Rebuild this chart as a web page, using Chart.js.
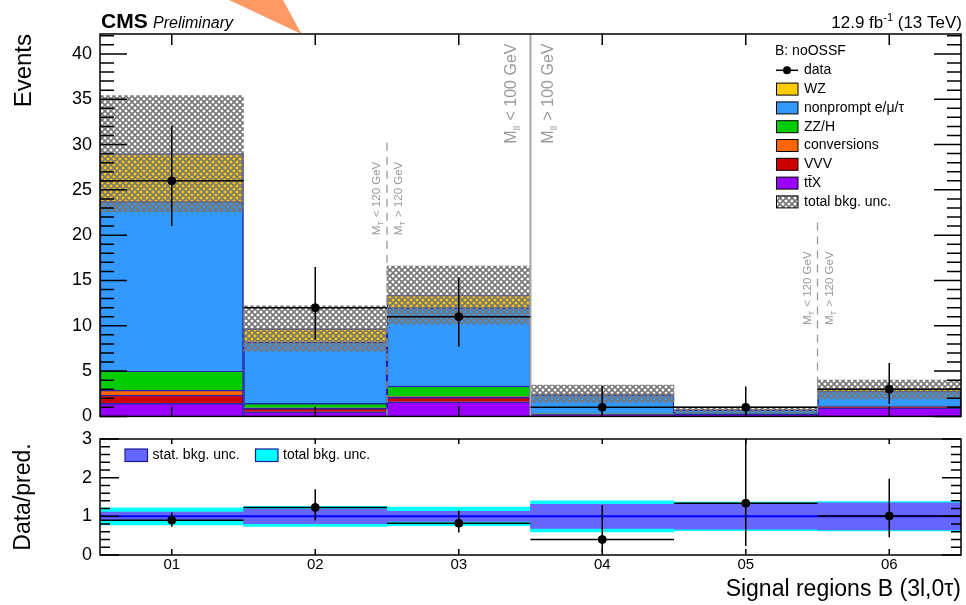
<!DOCTYPE html>
<html>
<head>
<meta charset="utf-8">
<script src="https://cdn.jsdelivr.net/npm/chart.js"></script>
<style>
  body { margin: 0; background: #fff; }
  #wrap { position: relative; width: 966px; height: 605px; }
  canvas { position: absolute; left: 0; }
  #main { top: 0; }
  #ratio { top: 420px; }
</style>
</head>
<body>
<div id="wrap">
  <canvas id="main" width="966" height="428"></canvas>
  <canvas id="ratio" width="966" height="185"></canvas>
</div>
<script>
// values
const regions = ['01', '02', '03', '04', '05', '06'];
const ttX = [1.44, 0.50, 1.62, 0.20, 0.25, 0.95];
const vvv = [0.92, 0.40, 0.48, 0.06, 0.03, 0.12];
const conversions = [0.54, 0.05, 0.10, 0.00, 0.00, 0.02];
const zzh = [2.14, 0.49, 1.15, 0.06, 0.02, 0.06];
const nonprompt = [18.66, 6.80, 8.65, 2.10, 0.43, 1.65];
const wz = [5.30, 1.46, 1.40, 0.08, 0.02, 0.17];
const bkgUnc = [6.4, 2.5, 3.2, 0.95, 0.30, 1.05];

const dataObs = [26, 12, 11, 1, 1, 3];
const dataLo = [21.0, 8.5, 7.7, 0.17, 0.17, 1.37];
const dataHi = [32.1, 16.5, 15.3, 3.35, 3.3, 5.9];

const ratio = [0.90, 1.23, 0.82, 0.40, 1.34, 1.01];
const ratioLo = [0.73, 0.89, 0.58, 0.07, 0.23, 0.46];
const ratioHi = [1.10, 1.70, 1.15, 1.29, 4.4, 1.97];
const statUnc = [0.11, 0.19, 0.13, 0.31, 0.33, 0.35];
const totUnc = [0.22, 0.26, 0.24, 0.40, 0.37, 0.38];

const yTicks = [0, 5, 10, 15, 20, 25, 30, 35, 40];
const ratioTicks = [0, 1, 2, 3];

const FONT = "'Liberation Sans', Arial, Helvetica, sans-serif";
Chart.defaults.font.family = FONT;
Chart.defaults.color = '#000';

const colors = {
  ttX: '#9900ff', vvv: '#cc0000', conv: '#ff6600', zzh: '#00cc00',
  np: '#3399ff', wz: '#ffcc00', edge: '#2424a4', gray: '#9a9a9a'
};

function makeHatch() {
  const c = document.createElement('canvas');
  c.width = 6; c.height = 6;
  const g = c.getContext('2d');
  g.strokeStyle = '#767676';
  g.lineWidth = 1.6;
  g.beginPath();
  g.moveTo(-1, -1); g.lineTo(7, 7);
  g.moveTo(-1, 7); g.lineTo(7, -1);
  g.stroke();
  return g.createPattern(c, 'repeat');
}
const hatch = makeHatch();

const totals = ttX.map((v, i) => v + vvv[i] + conversions[i] + zzh[i] + nonprompt[i] + wz[i]);

// frame + ROOT style inner ticks
function drawFrame(chart, o) {
  const {ctx, chartArea: a, scales: {x, y}} = chart;
  ctx.save();
  ctx.strokeStyle = '#000';
  ctx.lineWidth = 1.5;
  ctx.beginPath();
  const n = Math.round((y.max - y.min) / o.minor);
  for (let k = 0; k <= n; k++) {
    const v = y.min + k * o.minor;
    const py = y.getPixelForValue(v);
    const r = v / o.major;
    const len = Math.abs(r - Math.round(r)) < 1e-6 ? o.yMajor : o.yMinor;
    ctx.moveTo(a.left, py); ctx.lineTo(a.left + len, py);
    ctx.moveTo(a.right, py); ctx.lineTo(a.right - len, py);
  }
  for (let i = 0; i < regions.length; i++) {
    const px = x.getPixelForValue(i);
    ctx.moveTo(px, a.top); ctx.lineTo(px, a.top + o.xTop);
    ctx.moveTo(px, a.bottom); ctx.lineTo(px, a.bottom - o.xBottom);
  }
  ctx.stroke();
  ctx.strokeRect(a.left, a.top, a.right - a.left, a.bottom - a.top);
  ctx.restore();
}

function drawErrors(chart, vals, lo, hi) {
  const {ctx, chartArea: a, scales: {x, y}} = chart;
  const w = x.getPixelForValue(1) - x.getPixelForValue(0);
  ctx.save();
  ctx.beginPath();
  ctx.rect(a.left, a.top, a.right - a.left, a.bottom - a.top);
  ctx.clip();
  ctx.strokeStyle = '#000';
  ctx.lineWidth = 1.5;
  ctx.beginPath();
  vals.forEach((v, i) => {
    const px = x.getPixelForValue(i);
    const py = y.getPixelForValue(v);
    ctx.moveTo(px - w / 2, py); ctx.lineTo(px + w / 2, py);
    ctx.moveTo(px, y.getPixelForValue(lo[i])); ctx.lineTo(px, y.getPixelForValue(hi[i]));
  });
  ctx.stroke();
  ctx.restore();
}

function drawVText(ctx, x, y, parts, size, color) {
  ctx.save();
  ctx.translate(x, y);
  ctx.rotate(-Math.PI / 2);
  ctx.fillStyle = color;
  ctx.textAlign = 'left';
  ctx.textBaseline = 'alphabetic';
  let cx = 0;
  for (const p of parts) {
    const s = p.sub ? size * 0.62 : size;
    ctx.font = s + 'px ' + FONT;
    ctx.fillText(p.t, cx, p.sub ? size * 0.28 : 0);
    cx += ctx.measureText(p.t).width + (p.sub ? 1 : 0);
  }
  ctx.restore();
}

const legendItems = [
  {label: 'WZ', fill: colors.wz},
  {label: 'nonprompt e/\u03bc/\u03c4', fill: colors.np},
  {label: 'ZZ/H', fill: colors.zzh},
  {label: 'conversions', fill: colors.conv},
  {label: 'VVV', fill: colors.vvv},
  {label: 't\u0074\u0304X', fill: colors.ttX},
  {label: 'total bkg. unc.', fill: hatch}
];

const HATCH_INDEX = 6;

const mainDecor = {
  id: 'mainDecor',
  afterDatasetDraw(chart, args) {
    if (args.index !== HATCH_INDEX) return;
    const {ctx, chartArea: a, scales: {x, y}} = chart;
    const edge = i => (x.getPixelForValue(i) + x.getPixelForValue(i + 1)) / 2;
    ctx.save();
    // region separators
    ctx.strokeStyle = '#a8a8a8';
    ctx.lineWidth = 2;
    ctx.beginPath();
    ctx.moveTo(edge(2), a.top); ctx.lineTo(edge(2), a.bottom);
    ctx.stroke();
    ctx.strokeStyle = colors.gray;
    ctx.lineWidth = 1.3;
    ctx.setLineDash([8, 6]);
    ctx.beginPath();
    ctx.moveTo(edge(1), y.getPixelForValue(30.2)); ctx.lineTo(edge(1), a.bottom);
    ctx.moveTo(edge(4), y.getPixelForValue(21.4)); ctx.lineTo(edge(4), a.bottom);
    ctx.stroke();
    ctx.restore();

    const mll = y.getPixelForValue(30.1);
    drawVText(ctx, edge(2) - 15, mll, [{t: 'M'}, {t: 'll', sub: true}, {t: ' < 100 GeV'}], 16, colors.gray);
    drawVText(ctx, edge(2) + 22, mll, [{t: 'M'}, {t: 'll', sub: true}, {t: ' > 100 GeV'}], 16, colors.gray);
    const m1 = y.getPixelForValue(20.0);
    drawVText(ctx, edge(1) - 7, m1, [{t: 'M'}, {t: 'T', sub: true}, {t: ' < 120 GeV'}], 11.5, colors.gray);
    drawVText(ctx, edge(1) + 15, m1, [{t: 'M'}, {t: 'T', sub: true}, {t: ' > 120 GeV'}], 11.5, colors.gray);
    const m2 = y.getPixelForValue(10.1);
    drawVText(ctx, edge(4) - 7, m2, [{t: 'M'}, {t: 'T', sub: true}, {t: ' < 120 GeV'}], 11.5, colors.gray);
    drawVText(ctx, edge(4) + 15, m2, [{t: 'M'}, {t: 'T', sub: true}, {t: ' > 120 GeV'}], 11.5, colors.gray);

    drawErrors(chart, dataObs, dataLo, dataHi);
  },
  afterDraw(chart) {
    const {ctx} = chart;
    // orange marker at the top
    ctx.save();
    ctx.fillStyle = '#ff9966';
    ctx.beginPath();
    ctx.moveTo(229, 0); ctx.lineTo(283, 0); ctx.lineTo(301.5, 34);
    ctx.closePath();
    ctx.fill();
    ctx.restore();

    drawFrame(chart, {minor: 1, major: 5, yMajor: 27, yMinor: 14, xTop: 11, xBottom: 10});

    ctx.save();
    ctx.fillStyle = '#000';
    ctx.textBaseline = 'alphabetic';
    ctx.textAlign = 'left';
    ctx.font = 'bold 21px ' + FONT;
    ctx.fillText('CMS', 101, 28);
    ctx.font = 'italic 16px ' + FONT;
    ctx.fillText('Preliminary', 153, 28);

    // 12.9 fb^-1 (13 TeV)
    ctx.font = '17px ' + FONT;
    const a1 = '12.9 fb', a3 = ' (13 TeV)';
    const w1 = ctx.measureText(a1).width, w3 = ctx.measureText(a3).width;
    ctx.font = '11px ' + FONT;
    const w2 = ctx.measureText('-1').width;
    let sx = 962 - (w1 + w2 + w3);
    ctx.font = '17px ' + FONT;
    ctx.fillText(a1, sx, 28);
    ctx.font = '11px ' + FONT;
    ctx.fillText('-1', sx + w1, 21);
    ctx.font = '17px ' + FONT;
    ctx.fillText(a3, sx + w1 + w2, 28);

    // legend
    ctx.font = '14px ' + FONT;
    ctx.textBaseline = 'middle';
    ctx.fillText('B: noOSSF', 775, 51);
    const rowY = k => 70.3 + k * 18.8;
    ctx.strokeStyle = '#000';
    ctx.lineWidth = 1.5;
    ctx.beginPath();
    ctx.moveTo(776, rowY(0)); ctx.lineTo(798, rowY(0));
    ctx.stroke();
    ctx.beginPath();
    ctx.arc(787, rowY(0), 4, 0, Math.PI * 2);
    ctx.fill();
    ctx.fillText('data', 804, rowY(0));
    legendItems.forEach((it, k) => {
      const yy = rowY(k + 1);
      ctx.fillStyle = it.fill;
      ctx.fillRect(776, yy - 6, 22, 12);
      ctx.lineWidth = 1;
      ctx.strokeStyle = '#000';
      ctx.strokeRect(776.5, yy - 6, 21.5, 12);
      ctx.fillStyle = '#000';
      ctx.fillText(it.label, 804, yy);
    });
    ctx.restore();
  }
};

const barCommon = {
  type: 'bar', stack: 'bkg', order: 2, grouped: false,
  barPercentage: 1, categoryPercentage: 1,
  borderColor: colors.edge, borderWidth: 1.5
};

// keep the plot frame where the reference has it
const fixY = w => s => { s.width = w; s.paddingTop = 0; s.paddingBottom = 0; };

new Chart(document.getElementById('main'), {
  type: 'bar',
  data: {
    labels: regions,
    datasets: [
      {...barCommon, label: 'ttX', data: ttX, backgroundColor: colors.ttX},
      {...barCommon, label: 'VVV', data: vvv, backgroundColor: colors.vvv},
      {...barCommon, label: 'conversions', data: conversions, backgroundColor: colors.conv},
      {...barCommon, label: 'ZZ/H', data: zzh, backgroundColor: colors.zzh},
      {...barCommon, label: 'nonprompt', data: nonprompt, backgroundColor: colors.np},
      {...barCommon, label: 'WZ', data: wz, backgroundColor: colors.wz},
      {
        type: 'bar', label: 'total bkg. unc.', stack: 'unc', order: 1, grouped: false,
        barPercentage: 1, categoryPercentage: 1, borderWidth: 0,
        data: totals.map((t, i) => [t - bkgUnc[i], t + bkgUnc[i]]),
        backgroundColor: hatch
      },
      {
        type: 'line', label: 'data', order: 0, data: dataObs, showLine: false,
        pointRadius: 4, pointBackgroundColor: '#000', pointBorderColor: '#000', pointBorderWidth: 1
      }
    ]
  },
  options: {
    responsive: false,
    animation: false,
    layout: {padding: {left: 0, right: 4, top: 34, bottom: 11.6}},
    plugins: {legend: {display: false}, tooltip: {enabled: false}},
    scales: {
      x: {display: false, stacked: true, offset: true},
      y: {
        stacked: true, min: 0, max: 42.2,
        afterFit: fixY(100),
        afterBuildTicks: s => { s.ticks = yTicks.map(v => ({value: v})); },
        grid: {display: false, drawTicks: false},
        border: {display: false},
        ticks: {font: {size: 18}, padding: 8, color: '#000'},
        title: {display: true, text: 'Events', align: 'end', font: {size: 24}, padding: {top: 10, bottom: 0}, color: '#000'}
      }
    }
  },
  plugins: [mainDecor]
});

const ratioDecor = {
  id: 'ratioDecor',
  afterDatasetDraw(chart, args) {
    if (args.index !== 1) return;
    const {ctx, chartArea: a, scales: {y}} = chart;
    ctx.save();
    ctx.strokeStyle = '#0000ff';
    ctx.lineWidth = 2;
    ctx.beginPath();
    ctx.moveTo(a.left, y.getPixelForValue(1)); ctx.lineTo(a.right, y.getPixelForValue(1));
    ctx.stroke();
    ctx.restore();
    drawErrors(chart, ratio, ratioLo, ratioHi);
  },
  afterDraw(chart) {
    const {ctx} = chart;
    drawFrame(chart, {minor: 0.2, major: 1, yMajor: 19, yMinor: 10, xTop: 5, xBottom: 6});
    ctx.save();
    ctx.font = '14px ' + FONT;
    ctx.textBaseline = 'middle';
    ctx.lineWidth = 1.2;
    ctx.strokeStyle = '#1a1a9a';
    ctx.fillStyle = '#6666ff';
    ctx.fillRect(125, 29, 22.5, 12.5);
    ctx.strokeRect(125, 29, 22.5, 12.5);
    ctx.fillStyle = '#00ffff';
    ctx.fillRect(255.5, 29, 22.5, 12.5);
    ctx.strokeRect(255.5, 29, 22.5, 12.5);
    ctx.fillStyle = '#000';
    ctx.fillText('stat. bkg. unc.', 152.5, 35.5);
    ctx.fillText('total bkg. unc.', 283, 35.5);
    ctx.restore();
  }
};

new Chart(document.getElementById('ratio'), {
  type: 'bar',
  data: {
    labels: regions,
    datasets: [
      {
        label: 'total bkg. unc.', order: 3, grouped: false, barPercentage: 1, categoryPercentage: 1,
        data: totUnc.map(u => [1 - u, 1 + u]), backgroundColor: '#00ffff', borderWidth: 0
      },
      {
        label: 'stat. bkg. unc.', order: 2, grouped: false, barPercentage: 1, categoryPercentage: 1,
        data: statUnc.map(u => [1 - u, 1 + u]), backgroundColor: '#6666ff', borderWidth: 0
      },
      {
        type: 'line', label: 'data/pred', order: 0, data: ratio, showLine: false,
        pointRadius: 4, pointBackgroundColor: '#000', pointBorderColor: '#000', pointBorderWidth: 1
      }
    ]
  },
  options: {
    responsive: false,
    animation: false,
    layout: {padding: {left: 0, right: 4, top: 19, bottom: 0}},
    plugins: {legend: {display: false}, tooltip: {enabled: false}},
    scales: {
      x: {
        offset: true,
        afterFit: s => { s.height = 50; },
        grid: {display: false, drawTicks: false},
        border: {display: false},
        ticks: {font: {size: 15}, padding: 1, maxRotation: 0, autoSkip: false, color: '#000'},
        title: {display: true, text: 'Signal regions B (3l,0\u03c4)', align: 'end', font: {size: 23}, padding: {top: 0, bottom: 2}, color: '#000'}
      },
      y: {
        min: 0, max: 3,
        afterFit: fixY(100),
        afterBuildTicks: s => { s.ticks = ratioTicks.map(v => ({value: v})); },
        grid: {display: false, drawTicks: false},
        border: {display: false},
        ticks: {font: {size: 18}, padding: 8, color: '#000'},
        title: {display: true, text: 'Data/pred.', align: 'center', font: {size: 23}, padding: {top: 10, bottom: 0}, color: '#000'}
      }
    }
  },
  plugins: [ratioDecor]
});
</script>
</body>
</html>
